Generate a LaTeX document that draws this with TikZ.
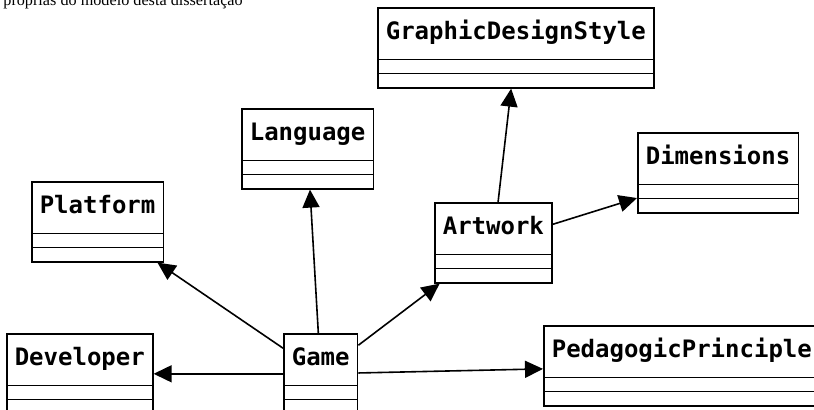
\documentclass[tikz,border=0pt]{standalone}
\usepackage{fontspec}
\setmainfont{Liberation Serif}
\newfontfamily\classfont{DejaVu Sans Mono}
\usetikzlibrary{arrows.meta,shapes.multipart}
\tikzset{umlclass/.style={
    % The shape:
    rectangle split,rectangle split parts=3,
    rectangle split empty part height=2.3pt,rectangle split empty part depth=0pt,
    inner xsep=4pt,inner ysep=2pt,
    % The rest
    line width=0.8pt,draw=black,fill=white,
    font=\classfont\bfseries\fontsize{12}{14}\selectfont
  },
  assoc/.style={-{Triangle[length=9pt,width=8.5pt]},line width=0.8pt}
}
% class name with two empty compartments
\newcommand{\classname}[1]{\rule[-7.5pt]{0pt}{21pt}#1\nodepart{second}\rule{0pt}{2.3pt}\nodepart{third}\rule{0pt}{2.3pt}}

\begin{document}
\begin{tikzpicture}[x=0.5pt,y=-0.5pt]
      \useasboundingbox (0,0) rectangle (814,409);
      \clip (0,0) rectangle (814,409);

      \node (caption) [anchor=base west,inner sep=0pt,font=\fontsize{8.1}{9}\selectfont]
        at (3,5) {próprias do modelo desta dissertação};

      \node (gds)  [umlclass,anchor=north west] at (377,7)   {\classname{GraphicDesignStyle}};
      \node (lang) [umlclass,anchor=north west] at (241,108) {\classname{Language}};
      \node (dim)  [umlclass,anchor=north west] at (637,132) {\classname{Dimensions}};
      \node (plat) [umlclass,anchor=north west] at (31,181)  {\classname{Platform}};
      \node (art)  [umlclass,anchor=north west] at (434,202) {\classname{Artwork}};
      \node (dev)  [umlclass,anchor=north west] at (6,333)   {\classname{Developer}};
      \node (game) [umlclass,anchor=north west] at (283,333) {\classname{Game}};
      \node (ped)  [umlclass,anchor=north west] at (543,325) {\classname{PedagogicPrinciple}};

      \path (game) edge[assoc] (dev);
      \path (game) edge[assoc] (plat);
      \path (game) edge[assoc] (lang);
      \path (game) edge[assoc] (art);
      \path (game) edge[assoc] (ped);
      \path (art) edge[assoc] (gds);
      \path (art) edge[assoc] (dim);
\end{tikzpicture}
\end{document}
